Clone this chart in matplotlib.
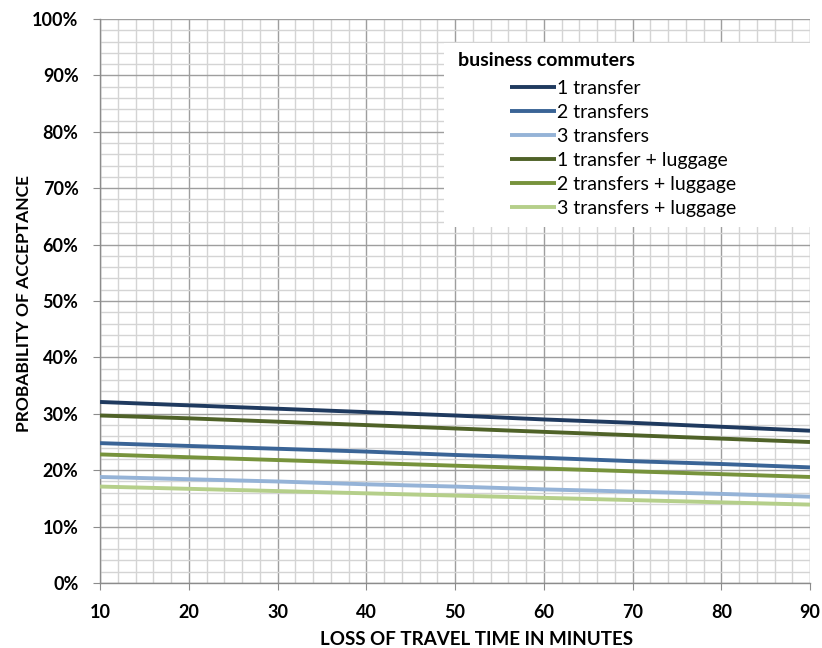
import matplotlib
matplotlib.use("Agg")
import matplotlib.pyplot as plt
from matplotlib.ticker import MultipleLocator, FuncFormatter
from matplotlib.patches import Rectangle

plt.rcParams['font.family'] = ['Lato', 'DejaVu Sans']

minutes = [10, 20, 30, 40, 50, 60, 70, 80, 90]
series_names = ["1 transfer", "2 transfers", "3 transfers",
                "1 transfer + luggage", "2 transfers + luggage", "3 transfers + luggage"]
one_transfer = [32.1, 31.5, 30.9, 30.3, 29.7, 29.0, 28.4, 27.7, 27.0]
two_transfers = [24.8, 24.3, 23.8, 23.3, 22.7, 22.2, 21.6, 21.1, 20.5]
three_transfers = [18.8, 18.4, 18.0, 17.5, 17.1, 16.6, 16.2, 15.8, 15.3]
one_transfer_lug = [29.7, 29.2, 28.6, 28.0, 27.4, 26.8, 26.2, 25.6, 25.0]
two_transfers_lug = [22.8, 22.3, 21.8, 21.3, 20.8, 20.3, 19.8, 19.3, 18.8]
three_transfers_lug = [17.1, 16.7, 16.3, 15.9, 15.5, 15.1, 14.7, 14.3, 13.9]
all_series = [one_transfer, two_transfers, three_transfers,
              one_transfer_lug, two_transfers_lug, three_transfers_lug]
colors = ["#1F3A5F", "#3A6496", "#95B3D7", "#4F6228", "#77933C", "#B5CF8A"]

fig = plt.figure(figsize=(8.22, 6.48), dpi=100)
ax = fig.add_axes([0.1217, 0.1003, 0.8637, 0.8704])

ax.set_xlim(10, 90)
ax.set_ylim(0, 100)
ax.xaxis.set_major_locator(MultipleLocator(10))
ax.xaxis.set_minor_locator(MultipleLocator(2))
ax.yaxis.set_major_locator(MultipleLocator(10))
ax.yaxis.set_minor_locator(MultipleLocator(2))
ax.yaxis.set_major_formatter(FuncFormatter(lambda v, p: f"{v:.0f}%"))

ax.grid(which='minor', color='#D4D4D4', linewidth=1.0, zorder=0)
ax.grid(which='major', color='#9E9E9E', linewidth=1.0, zorder=0)
ax.set_axisbelow(True)

for s in ['top', 'right']:
    ax.spines[s].set_visible(False)
for s in ['left', 'bottom']:
    ax.spines[s].set_color('#8C8C8C')
    ax.spines[s].set_linewidth(1.0)

ax.tick_params(which='major', direction='out', length=5, color='#8C8C8C',
               labelsize=13)
ax.tick_params(axis='x', which='major', pad=10)
ax.tick_params(axis='y', which='major', pad=10.5)
ax.tick_params(which='minor', length=0)
for lab in ax.get_xticklabels() + ax.get_yticklabels():
    lab.set_fontweight('bold')

lines = []
for name, vals, c in zip(series_names, all_series, colors):
    ln, = ax.plot(minutes, vals, color=c, linewidth=2.8, label=name, zorder=3,
                  solid_capstyle='butt')
    lines.append(ln)

ax.set_xlabel("LOSS OF TRAVEL TIME IN MINUTES", fontsize=13.5, fontweight='bold')
ax.xaxis.set_label_coords(0.530, -0.085)
ax.xaxis.label.set_va('top')
ax.set_ylabel("PROBABILITY OF ACCEPTANCE", fontsize=12.5, fontweight='bold')
ax.yaxis.set_label_coords(-0.107, 0.495)
ax.yaxis.label.set_va('center')

# legend background box
rect = Rectangle((0.484, 0.632), 0.516, 0.325, transform=ax.transAxes,
                 facecolor='white', edgecolor='none', zorder=4)
ax.add_patch(rect)
ax.text(0.504, 0.927, "business commuters", transform=ax.transAxes,
        fontsize=14, fontweight='bold', va='center', ha='left', zorder=5)
leg = ax.legend(handles=lines, loc='upper left', bbox_to_anchor=(0.577, 0.892),
                frameon=False, fontsize=14, handlelength=2.4, handletextpad=0.05,
                labelspacing=0.36, borderpad=0, borderaxespad=0)
leg.set_zorder(6)

fig.savefig("out.png", dpi=100)
